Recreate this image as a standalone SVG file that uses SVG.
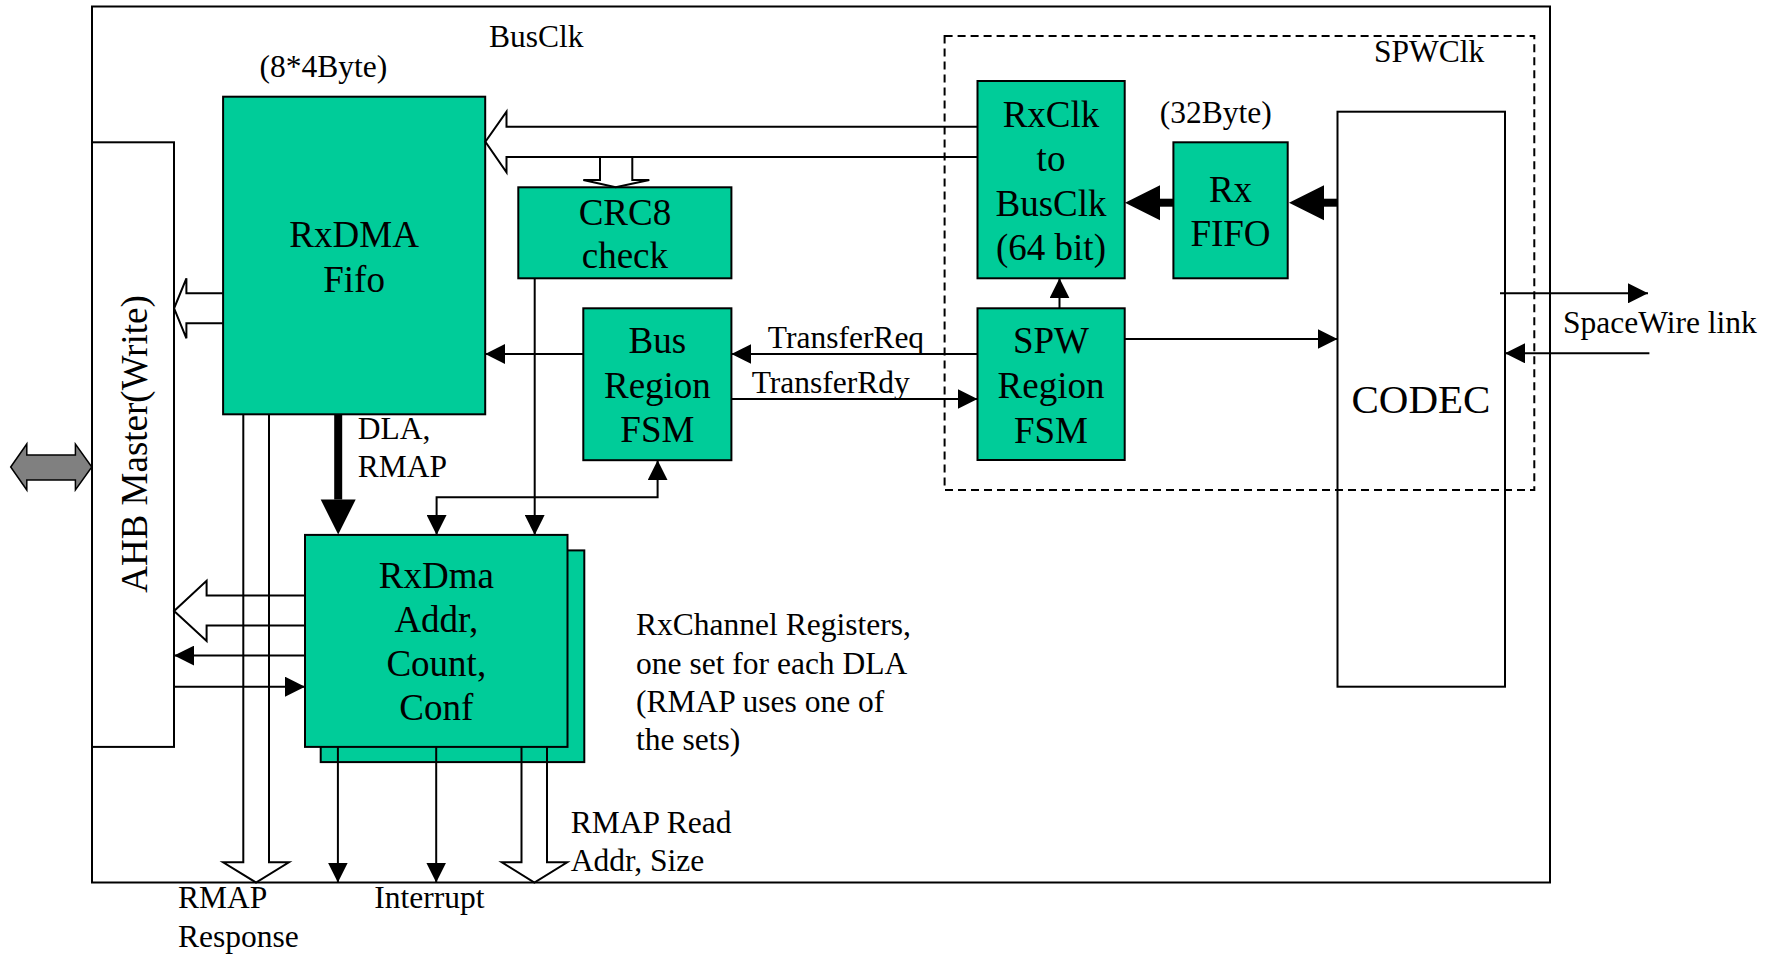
<svg xmlns="http://www.w3.org/2000/svg" width="1778" height="955" viewBox="0 0 1778 955">
<style>
.frame{fill:none;stroke:#000;stroke-width:2}
.box{fill:#00CC99;stroke:#000;stroke-width:2}
.wbox{fill:none;stroke:#000;stroke-width:2}
.ln{fill:none;stroke:#000;stroke-width:2}
.hol{fill:none;stroke:#000;stroke-width:2;stroke-linejoin:miter}
.thick{fill:none;stroke:#000;stroke-width:8}
.dash{fill:none;stroke:#000;stroke-width:2;stroke-dasharray:8,5}
text{font-family:"Liberation Serif","Times New Roman",serif;fill:#000}
.big{font-size:37px;text-anchor:middle}
.sm{font-size:31.5px}
.codec{font-size:41px;text-anchor:middle}
</style>
<defs>
<marker id="ah" markerUnits="userSpaceOnUse" markerWidth="20" markerHeight="20" refX="20" refY="10" orient="auto-start-reverse" viewBox="0 0 20 20">
<path d="M0,0 L20,10 L0,20 z" fill="#000"/>
</marker>
<marker id="th" markerUnits="userSpaceOnUse" markerWidth="36" markerHeight="36" refX="0" refY="17.5" orient="auto" viewBox="0 0 36 36" overflow="visible">
<path d="M0,0 L35,17.5 L0,35 z" fill="#000"/>
</marker>
</defs>
<rect width="1778" height="955" fill="#fff"/>
<g id="frame">
<rect class="frame" x="92" y="6.5" width="1458" height="876"/>
<text class="sm" x="489" y="46.7">BusClk</text>
</g>
<g id="gray-arrow">
<polygon points="10.7,467 26.8,444 26.8,455 75.4,455 75.4,444 91.8,467 75.4,490 75.4,480 26.8,480 26.8,490" fill="#808080" stroke="#000" stroke-width="1.5"/>
</g>
<g id="ahb">
<rect class="wbox" x="92" y="142.3" width="82" height="604.6"/>
<text class="big" transform="translate(147,444) rotate(-90)">AHB Master(Write)</text>
</g>
<g id="rxdma-fifo">
<rect class="box" x="223.1" y="96.7" width="262.1" height="317.6"/>
<text class="big" x="354.1" y="246.7">RxDMA</text>
<text class="big" x="354.1" y="291.7">Fifo</text>
<text class="sm" x="259.5" y="76.5">(8*4Byte)</text>
</g>
<g id="crc8">
<rect class="box" x="518.3" y="187.3" width="213.1" height="91"/>
<text class="big" x="624.9" y="225">CRC8</text>
<text class="big" x="624.9" y="268.3">check</text>
</g>
<g id="bus-fsm">
<rect class="box" x="583.3" y="308.3" width="148.1" height="151.9"/>
<text class="big" x="657.4" y="353">Bus</text>
<text class="big" x="657.4" y="397.5">Region</text>
<text class="big" x="657.4" y="442">FSM</text>
</g>
<g id="rxclk">
<rect class="box" x="977.5" y="81" width="147.2" height="197.3"/>
<text class="big" x="1051" y="126.7">RxClk</text>
<text class="big" x="1051" y="170.7">to</text>
<text class="big" x="1051" y="216">BusClk</text>
<text class="big" x="1051" y="259.5">(64 bit)</text>
</g>
<g id="rx-fifo">
<rect class="box" x="1173.4" y="142.3" width="114.3" height="136"/>
<text class="big" x="1230.5" y="201.7">Rx</text>
<text class="big" x="1230.5" y="246">FIFO</text>
<text class="sm" x="1159.7" y="123.3">(32Byte)</text>
</g>
<g id="spw-fsm">
<rect class="box" x="977.5" y="308.3" width="147.2" height="151.7"/>
<text class="big" x="1051" y="352.7">SPW</text>
<text class="big" x="1051" y="398">Region</text>
<text class="big" x="1051" y="442.7">FSM</text>
</g>
<g id="codec">
<rect class="wbox" x="1337.5" y="111.7" width="167.5" height="575"/>
<text class="codec" x="1421" y="413.3">CODEC</text>
</g>
<g id="rxdma-regs">
<rect class="box" x="320.7" y="550.4" width="263.6" height="211.7"/>
<rect class="box" x="305" y="534.9" width="262.5" height="212"/>
<text class="big" x="436.3" y="587.6">RxDma</text>
<text class="big" x="436.3" y="631.9">Addr,</text>
<text class="big" x="436.3" y="676.1">Count,</text>
<text class="big" x="436.3" y="720.4">Conf</text>
</g>
<g id="spwclk-region">
<rect class="dash" x="944.6" y="36" width="589.7" height="454"/>
<text class="sm" x="1374" y="61.7">SPWClk</text>
</g>
<g id="connectors">
<path class="hol" d="M977.5,126.7 H506.5 V111.7 L485.4,141.8 L506.5,172.3 V157 H977.5"/>
<path class="hol" d="M600,157 V180 H583.3 L615.7,187.3 L649.3,180 H632.3 V157"/>
<path class="hol" d="M223.1,293.3 H186.4 V278.3 L174.1,308.3 L186.4,338.3 V323.3 H223.1"/>
<path class="hol" d="M243.3,414.3 V862.3 H223.1 L256,882.5 L288.9,862.3 H269 V414.3"/>
<path class="hol" d="M305,595.4 H206.6 V580.8 L174.1,611.1 L206.6,641 V625.6 H305"/>
<path class="hol" d="M521.5,746.9 V862.3 H501.8 L534.4,882.5 L567.2,862.3 H547 V746.9" fill="#fff"/>
<path class="ln" d="M583.3,354 H485.2" marker-end="url(#ah)"/>
<path class="ln" d="M977.5,354 H731.4" marker-end="url(#ah)"/>
<path class="ln" d="M731.4,399 H977.5" marker-end="url(#ah)"/>
<path class="ln" d="M1059.5,308.3 V278.3" marker-end="url(#ah)"/>
<path class="ln" d="M1124.7,339 H1337.5" marker-end="url(#ah)"/>
<path class="ln" d="M1500,293.3 H1648" marker-end="url(#ah)"/>
<path class="ln" d="M1649.4,353.3 H1505" marker-end="url(#ah)"/>
<path class="ln" d="M534.7,278.3 V534.9" marker-end="url(#ah)"/>
<path class="ln" d="M436.6,534.9 V497.3 H657.6 V460.2" marker-start="url(#ah)" marker-end="url(#ah)"/>
<path class="ln" d="M305,655.6 H174.1" marker-end="url(#ah)"/>
<path class="ln" d="M174.1,686.7 H305" marker-end="url(#ah)"/>
<path class="ln" d="M337.9,746.9 V882.5" marker-end="url(#ah)"/>
<path class="ln" d="M436.2,746.9 V882.5" marker-end="url(#ah)"/>
<path class="thick" d="M338.2,414.3 V499.5" marker-end="url(#th)"/>
<path class="thick" d="M1337.5,202.7 H1324" marker-end="url(#th)"/>
<path class="thick" d="M1173.4,202.7 H1160" marker-end="url(#th)"/>
<text class="sm" x="767.8" y="348.3">TransferReq</text>
<text class="sm" x="751.7" y="393.3">TransferRdy</text>
<text class="sm" x="1563" y="333">SpaceWire link</text>
<text class="sm" x="357.8" y="439">DLA,</text>
<text class="sm" x="357.8" y="477.2">RMAP</text>
<text class="sm" x="178" y="908">RMAP</text>
<text class="sm" x="178" y="947">Response</text>
<text class="sm" x="374.2" y="908">Interrupt</text>
<text class="sm" x="570.7" y="832.6">RMAP Read</text>
<text class="sm" x="570.7" y="870.8">Addr, Size</text>
</g>
<g id="note">
<text class="sm" x="636.1" y="635.4">RxChannel Registers,</text>
<text class="sm" x="636.1" y="674.3">one set for each DLA</text>
<text class="sm" x="636.1" y="712.2">(RMAP uses one of</text>
<text class="sm" x="636.1" y="750.4">the sets)</text>
</g>
</svg>
